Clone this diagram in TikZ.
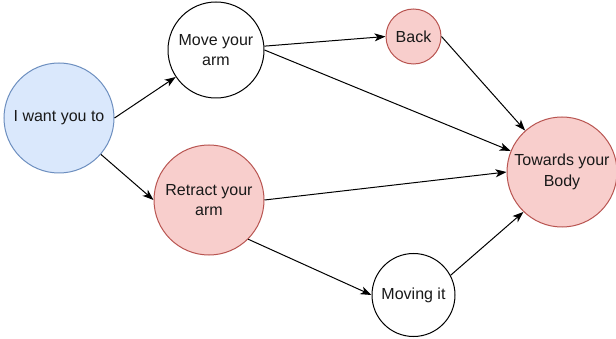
\documentclass[tikz,border=0pt]{standalone}
\usepackage{fontspec}
\setmainfont{Liberation Sans}
\usetikzlibrary{arrows.meta}
\definecolor{bluefill}{HTML}{DAE8FC}
\definecolor{bluedraw}{HTML}{6C8EBF}
\definecolor{redfill}{HTML}{F8CECC}
\definecolor{reddraw}{HTML}{B85450}
\begin{document}
\begin{tikzpicture}[x=1pt,y=-1pt,
  circ/.style={circle,draw=black,fill=white,line width=1pt,inner sep=0pt,align=center,
    font=\fontsize{16}{20.5}\selectfont,text=black!90},
  bluec/.style={circ,draw=bluedraw,fill=bluefill},
  redc/.style={circ,draw=reddraw,fill=redfill},
  arr/.style={-{Stealth[length=11pt,width=8pt,inset=3pt]},line width=1pt}]
\useasboundingbox (0,0) rectangle (616,339);
\node[bluec,minimum size=110pt] (iwant) at (59,118) {I want you to};
\node[circ,minimum size=96pt] (move) at (216,50) {Move your\\arm};
\node[redc,minimum size=55pt] (back) at (413.5,36.5) {Back};
\node[redc,minimum size=110pt] (retract) at (209,200) {Retract your\\arm};
\node[redc,minimum size=110pt] (towards) at (562,172) {Towards your\\Body};
\node[circ,minimum size=83pt] (moving) at (413.5,295) {Moving it};
\draw[arr] (iwant.east) -- (move);
\draw[arr] (iwant) -- (retract.west);
\draw[arr] (move) -- (back.west);
\draw[arr] (move.east) -- (towards);
\draw[arr] (back.east) -- (towards);
\draw[arr] (retract.east) -- (towards.west);
\draw[arr] (retract.-45) -- (moving.west);
\draw[arr] (moving.28) -- (towards.226);
\end{tikzpicture}
\end{document}
